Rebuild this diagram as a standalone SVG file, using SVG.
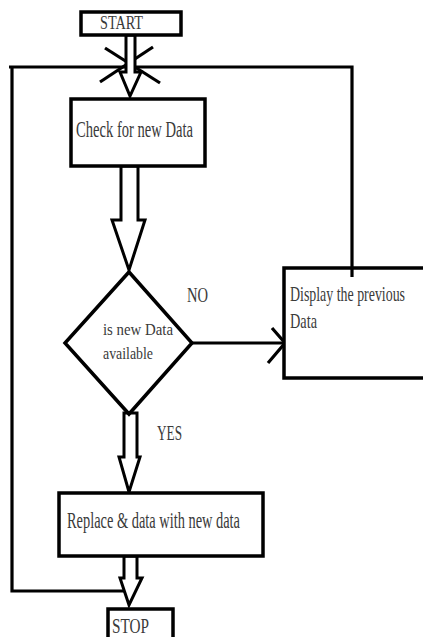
<svg xmlns="http://www.w3.org/2000/svg" width="423" height="637" viewBox="0 0 423 637">
<style>
.box{fill:#fff;stroke:#000;stroke-width:3.5}
.ln{fill:none;stroke:#000;stroke-width:3.2;stroke-linejoin:miter}
.arr{fill:#fff;stroke:#000;stroke-width:3;stroke-linejoin:miter}
.t{font-family:"Liberation Serif","Times New Roman",serif;fill:#3a3a3a}
</style>
<rect width="423" height="637" fill="#fff"/>
<g id="connectors">
<polyline class="ln" points="352,268 352,67 9,67"/>
<polyline class="ln" points="12,67 12,591 124,591"/>
<line class="ln" x1="105" y1="48" x2="160" y2="83"/>
<line class="ln" x1="153" y1="47" x2="100" y2="82"/>
<line class="ln" x1="192" y1="343" x2="285" y2="343"/>
<polyline class="ln" points="272,328 285,343 268,363"/>
<polygon class="arr" points="126,35 135,35 135,72 141,72 130,96 120,72 126,72"/>
<polygon class="arr" points="121,166 138,166 138,220 145,220 129,270 112,220 121,220"/>
<polygon class="arr" points="124,413 137,413 137,457 140,457 129,492 119,457 124,457"/>
<polygon class="arr" points="124,556 137,556 137,578 142,578 129,605 120,578 124,578"/>
</g>
<g id="start">
<rect class="box" x="81" y="12" width="100" height="23"/>
<text class="t" x="100" y="29" font-size="19" textLength="43" lengthAdjust="spacingAndGlyphs">START</text>
</g>
<g id="check">
<rect class="box" x="71" y="99" width="134" height="67"/>
<text class="t" x="76" y="137" font-size="23" textLength="117" lengthAdjust="spacingAndGlyphs">Check for new Data</text>
</g>
<g id="decision">
<polygon class="box" points="129,272 192,343 129,414 65,343"/>
<text class="t" x="103" y="335" font-size="16" textLength="70" lengthAdjust="spacingAndGlyphs">is new Data</text>
<text class="t" x="103" y="359" font-size="16" textLength="50" lengthAdjust="spacingAndGlyphs">available</text>
</g>
<g id="label-no">
<text class="t" x="187" y="302" font-size="21" textLength="21" lengthAdjust="spacingAndGlyphs">NO</text>
</g>
<g id="label-yes">
<text class="t" x="157" y="440" font-size="21" textLength="25" lengthAdjust="spacingAndGlyphs">YES</text>
</g>
<g id="display">
<rect class="box" x="284" y="268" width="150" height="110"/>
<line class="ln" x1="352" y1="268" x2="352" y2="277"/>
<text class="t" x="290" y="301" font-size="21" textLength="115" lengthAdjust="spacingAndGlyphs">Display the previous</text>
<text class="t" x="290" y="328" font-size="21" textLength="27" lengthAdjust="spacingAndGlyphs">Data</text>
</g>
<g id="replace">
<rect class="box" x="59" y="493" width="204" height="63"/>
<text class="t" x="67" y="528" font-size="23" textLength="173" lengthAdjust="spacingAndGlyphs">Replace &amp; data with new data</text>
</g>
<g id="stop">
<rect class="box" x="108" y="609" width="65" height="34"/>
<text class="t" x="112" y="633" font-size="21" textLength="37" lengthAdjust="spacingAndGlyphs">STOP</text>
</g>
</svg>
